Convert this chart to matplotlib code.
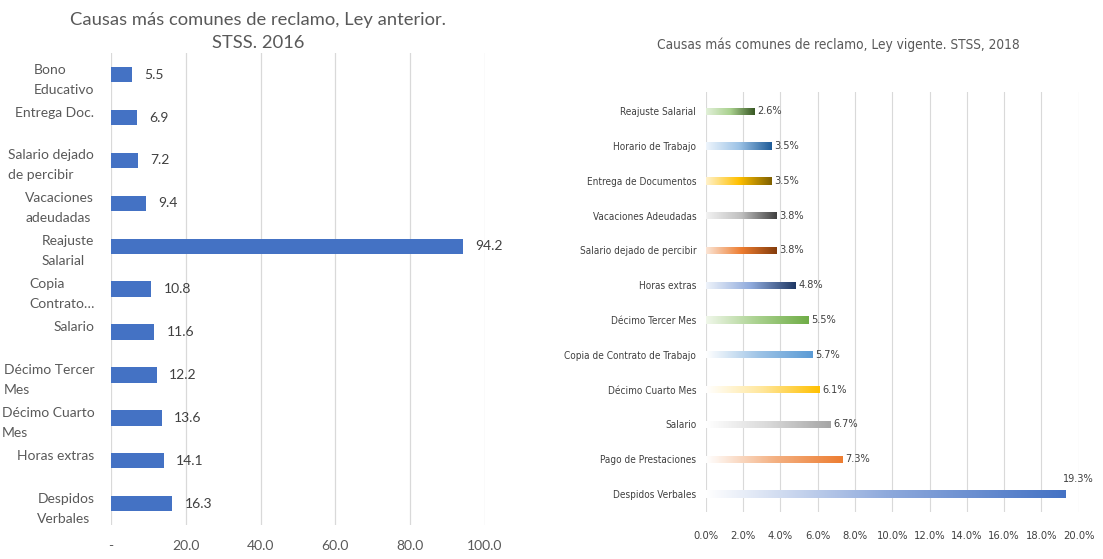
import matplotlib
matplotlib.use("Agg")
import matplotlib.pyplot as plt
import numpy as np
from matplotlib import font_manager
from matplotlib.colors import LinearSegmentedColormap

# data: left chart (ley anterior, 2016)
left_labels = ["Bono\nEducativo", "Entrega Doc.\n ", "Salario dejado\nde percibir",
               "Vacaciones\nadeudadas", "Reajuste\nSalarial", "Copia\nContrato…",
               "Salario\n ", "Décimo Tercer\nMes", "Décimo Cuarto\nMes",
               "Horas extras\n ", "Despidos\nVerbales"]
left_values = [5.5, 6.9, 7.2, 9.4, 94.2, 10.8, 11.6, 12.2, 13.6, 14.1, 16.3]
left_ticks = [0, 20, 40, 60, 80, 100]

# data: right chart (ley vigente, 2018), percent
right_labels = ["Reajuste Salarial", "Horario de Trabajo", "Entrega de Documentos",
                "Vacaciones Adeudadas", "Salario dejado de percibir", "Horas extras",
                "Décimo Tercer Mes", "Copia de Contrato de Trabajo", "Décimo Cuarto Mes",
                "Salario", "Pago de Prestaciones", "Despidos Verbales"]
right_values = [2.6, 3.5, 3.5, 3.8, 3.8, 4.8, 5.5, 5.7, 6.1, 6.7, 7.3, 19.3]
right_ticks = [0, 2, 4, 6, 8, 10, 12, 14, 16, 18, 20]

# gradient stops per bar (left -> right)
grad_colors = [
    ["#E2F0D9", "#A9D18E", "#385723"],
    ["#EEF5FC", "#9DC3E6", "#1F5C99"],
    ["#FFF2CC", "#FFC000", "#7F6000"],
    ["#F2F2F2", "#BFBFBF", "#404040"],
    ["#FBE5D6", "#ED7D31", "#843C0C"],
    ["#EEF3FA", "#8FAADC", "#1F3864"],
    ["#F0F7EA", "#A9D18E", "#70AD47"],
    ["#FFFFFF", "#9DC3E6", "#5B9BD5"],
    ["#FFFFFF", "#FFE699", "#FFC000"],
    ["#FFFFFF", "#D9D9D9", "#A5A5A5"],
    ["#FFFFFF", "#F4B183", "#ED7D31"],
    ["#FFFFFF", "#8FAADC", "#4472C4"],
]

names = {f.name for f in font_manager.fontManager.ttflist}
main_font = "Lato" if "Lato" in names else "DejaVu Sans"

# look for a narrow / condensed face for the right chart
narrow = None
for f in font_manager.fontManager.ttflist:
    if ("Narrow" in f.name or "Condensed" in f.name or
            str(f.stretch) in ("condensed", "semi-condensed", "extra-condensed")) \
            and f.style == "normal" and f.weight in (400, "normal"):
        narrow = f.fname
        break


def nfont(size):
    if narrow:
        return font_manager.FontProperties(fname=narrow, size=size)
    return font_manager.FontProperties(family="DejaVu Sans", size=size * 0.85)


grid_c = "#D9D9D9"
text_c = "#595959"
label_c = "#404040"

fig = plt.figure(figsize=(11.03, 5.59), dpi=100)

# ---------------- left chart ----------------
ax1 = fig.add_axes([0.1006, 0.0608, 0.339, 0.844])
y1 = np.arange(len(left_values))
ax1.barh(y1, left_values, height=0.36, color="#4472C4", zorder=3)
ax1.set_xlim(0, 100)
ax1.set_ylim(len(left_values) - 0.5, -0.5)
ax1.set_xticks(left_ticks)
ax1.set_xticklabels(["-" if t == 0 else f"{t:.1f}" for t in left_ticks])
ax1.set_yticks(y1)
ax1.set_yticklabels(left_labels)
for t in ax1.get_yticklabels():
    t.set_multialignment("left")
    t.set_linespacing(1.8)
ax1.tick_params(axis="both", length=0, labelsize=10, labelcolor=text_c)
ax1.tick_params(axis="x", pad=11)
ax1.tick_params(axis="y", pad=12)
for lab in ax1.get_xticklabels() + ax1.get_yticklabels():
    lab.set_fontfamily(main_font)
ax1.grid(axis="x", color=grid_c, linewidth=0.9, zorder=0)
for s in ax1.spines.values():
    s.set_visible(False)
for yi, v in zip(y1, left_values):
    ax1.annotate(f"{v:.1f}", (v, yi), xytext=(9, 0), textcoords="offset points",
                 va="center", ha="left", fontsize=10, color=label_c, family=main_font)
fig.text(0.234, 0.978, "Causas más comunes de reclamo, Ley anterior.\nSTSS. 2016",
         ha="center", va="top", fontsize=13.2, color=text_c, family=main_font,
         linespacing=1.5)

# ---------------- right chart ----------------
ax2 = fig.add_axes([0.640, 0.084, 0.338, 0.751])
y2 = np.arange(len(right_values))
h = 0.21
bars = ax2.barh(y2, right_values, height=h, color="none", zorder=3)
for b, v, yi, cols in zip(bars, right_values, y2, grad_colors):
    cmap = LinearSegmentedColormap.from_list("g", cols)
    im = ax2.imshow(np.linspace(0, 1, 256).reshape(1, -1), cmap=cmap, aspect="auto",
                    extent=(0, v, yi + h / 2, yi - h / 2), zorder=3)
    im.set_clip_path(b)
ax2.set_xlim(0, 20)
ax2.set_ylim(len(right_values) - 0.48, -0.55)
ax2.set_xticks(right_ticks)
ax2.set_xticklabels([f"{t:.1f}%" for t in right_ticks])
ax2.set_yticks(y2)
ax2.set_yticklabels(right_labels)
ax2.tick_params(axis="both", length=0, labelcolor=label_c)
ax2.tick_params(axis="x", pad=14)
ax2.tick_params(axis="y", pad=7)
for lab in ax2.get_xticklabels():
    lab.set_fontproperties(nfont(8))
for lab in ax2.get_yticklabels():
    lab.set_fontproperties(nfont(7.2))
ax2.grid(axis="x", color=grid_c, linewidth=0.8, zorder=0)
for s in ax2.spines.values():
    s.set_visible(False)
for yi, v in zip(y2, right_values):
    if v > 18:
        ax2.annotate(f"{v:.1f}%", (v, yi), xytext=(-2, 7), textcoords="offset points",
                     va="bottom", ha="left", color=label_c,
                     fontproperties=nfont(7.8), annotation_clip=False)
    else:
        ax2.annotate(f"{v:.1f}%", (v, yi), xytext=(2, 0), textcoords="offset points",
                     va="center", ha="left", color=label_c,
                     fontproperties=nfont(7.8))
fig.text(0.760, 0.92, "Causas más comunes de reclamo, Ley vigente. STSS, 2018",
         ha="center", va="center", color=text_c, fontproperties=nfont(9.8))

fig.savefig("out.png", dpi=100)
